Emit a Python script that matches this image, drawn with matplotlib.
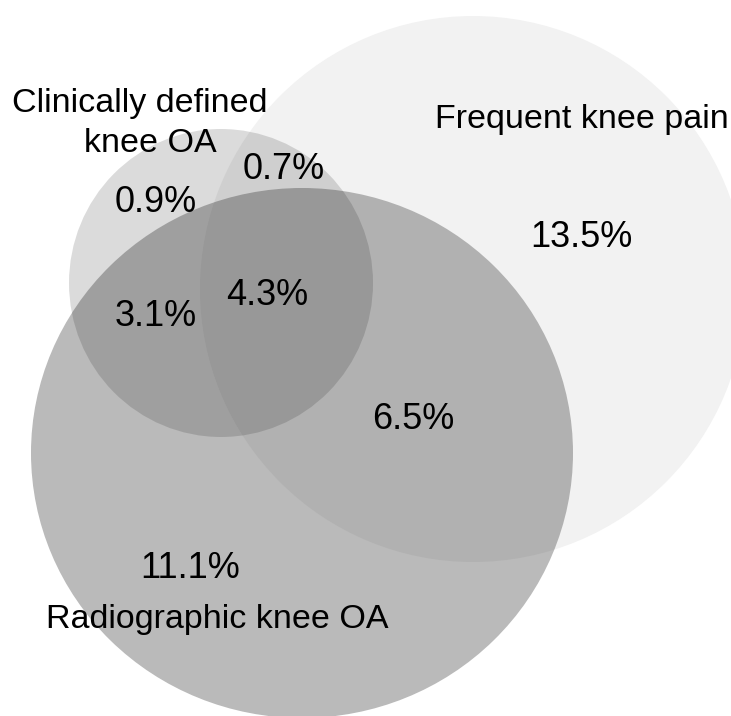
import matplotlib.pyplot as plt
from matplotlib.patches import Ellipse

plt.rcParams['font.family'] = ['Liberation Sans', 'DejaVu Sans']

# sets (name, centre x, centre y, width, height) in pixel units
set_names = ['Frequent knee pain', 'Radiographic knee OA', 'Clinically defined\nknee OA']
set_centres = [(473, 289), (302, 453), (221, 283)]
set_sizes = [(546, 546), (542, 530), (304, 308)]

# region percentages
region_labels = ['13.5%', '0.7%', '0.9%', '4.3%', '3.1%', '6.5%', '11.1%']
region_pos = [(581, 247), (284, 179), (156, 212), (267, 305), (156, 326), (413, 429), (190, 578)]

fig = plt.figure(figsize=(7.31, 7.16), dpi=100)
ax = fig.add_axes([0, 0, 1, 1])
ax.set_xlim(0, 731)
ax.set_ylim(716, 0)
ax.axis('off')

# frequent pain circle, opaque light grey
ax.add_patch(Ellipse(set_centres[0], *set_sizes[0], facecolor='#f2f2f2', edgecolor='none'))
# radiographic OA, translucent dark grey
ax.add_patch(Ellipse(set_centres[1], *set_sizes[1], facecolor='#303030', alpha=0.333, edgecolor='none'))
# clinically defined OA, translucent black
ax.add_patch(Ellipse(set_centres[2], *set_sizes[2], facecolor='black', alpha=0.14, edgecolor='none'))

for lab, (x, y) in zip(region_labels, region_pos):
    ax.text(x, y, lab, ha='center', va='baseline', fontsize=26)

ax.text(582, 128, set_names[0], ha='center', va='baseline', fontsize=24.5)
ax.text(217, 628, set_names[1], ha='center', va='baseline', fontsize=24.5)
line1, line2 = set_names[2].split('\n')
ax.text(140, 112, line1, ha='center', va='baseline', fontsize=24.5)
ax.text(150, 152, line2, ha='center', va='baseline', fontsize=24.5)

fig.savefig('out.png', dpi=100)
